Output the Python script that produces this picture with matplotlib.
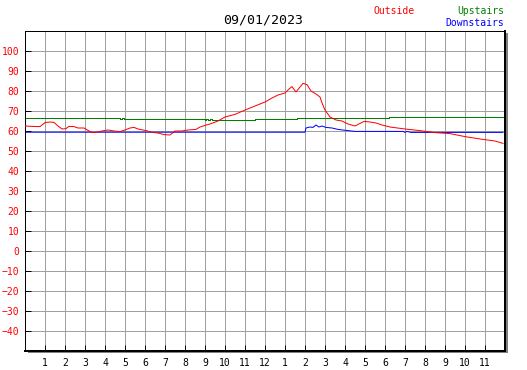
import matplotlib
matplotlib.use("Agg")
import matplotlib.pyplot as plt
from matplotlib.patches import Rectangle

plt.rcParams["font.family"] = ["DejaVu Sans Mono"]

W, H = 527, 370
PX = 0.72  # one pixel in points at dpi 100

title = "09/01/2023"
hour_labels = ["1", "2", "3", "4", "5", "6", "7", "8", "9", "10", "11", "12",
               "1", "2", "3", "4", "5", "6", "7", "8", "9", "10", "11"]

# outside temperature (red)
out_h = [0, 0.4, 0.75, 1.0, 1.25, 1.45, 1.65, 1.85, 2.05, 2.2, 2.45, 2.65, 2.95,
         3.15, 3.35, 3.55, 3.85, 4.15, 4.45, 4.75, 5.0, 5.25, 5.45, 5.65, 6.05,
         6.35, 6.65, 6.95, 7.25, 7.5, 7.85, 8.15, 8.55, 8.75, 9.0, 9.25, 9.65,
         10.0, 10.5, 11.0, 11.5, 12.0, 12.35, 12.65, 13.0, 13.2, 13.35, 13.55,
         13.75, 13.9, 14.1, 14.3, 14.55, 14.75, 14.85, 15.0, 15.25, 15.55,
         15.85, 16.15, 16.5, 16.75, 16.95, 17.25, 17.55, 17.85, 18.25, 19.0,
         19.75, 20.5, 21.25, 22.0, 22.75, 23.5, 23.9]
out_v = [62.5, 62.3, 62.2, 64.2, 64.5, 64.3, 62.5, 61.0, 61.2, 62.3, 62.2, 61.5,
         61.5, 60.3, 59.2, 59.3, 60.0, 60.5, 60.0, 59.7, 60.5, 61.5, 61.8, 61.0,
         60.2, 59.3, 59.0, 58.2, 58.0, 60.0, 60.0, 60.5, 60.8, 62.0, 62.8, 63.5,
         65.0, 67.0, 68.3, 70.5, 72.5, 74.5, 76.5, 78.0, 79.0, 81.0, 82.2, 79.5,
         82.0, 83.8, 83.2, 80.0, 78.5, 77.0, 74.0, 70.5, 67.0, 65.5, 65.0, 63.5,
         62.5, 63.8, 64.8, 64.5, 64.0, 63.0, 62.0, 61.0, 60.2, 59.2, 58.7, 57.2,
         56.0, 55.0, 53.8]

# upstairs (green)
up_h = [0, 4.75, 4.85, 4.95, 9.0, 9.05, 9.15, 9.25, 9.35, 9.5, 11.5, 13.6,
        18.2, 23.9]
up_v = [66.3, 65.8, 66.3, 65.8, 65.3, 65.8, 65.3, 65.8, 65.3, 65.3, 65.8,
        66.3, 66.8, 66.8]

# downstairs (blue)
down_h = [0, 14.0, 14.05, 14.25, 14.4, 14.55, 14.7, 14.85, 15.05, 15.35, 15.65,
          16.05, 16.5, 18.9, 19.0, 19.1, 19.3, 19.4, 23.9]
down_v = [59.4, 59.4, 61.5, 62.0, 61.8, 63.0, 62.0, 62.5, 61.8, 61.5, 60.8,
          60.3, 59.8, 59.8, 59.3, 59.8, 59.3, 59.3, 59.3]

fig = plt.figure(figsize=(W / 100, H / 100), dpi=100)
ax = fig.add_axes([25 / W, (H - 351) / H, 480 / W, 320 / H])

# drop shadow behind the plot frame
fig.add_artist(Rectangle((28 / W, (H - 353) / H), 480 / W, 320 / H,
                         transform=fig.transFigure, facecolor="#808080",
                         edgecolor="none", zorder=-1))

ax.plot(out_h, out_v, color="red", linewidth=PX, antialiased=True, zorder=3)
ax.plot(up_h, up_v, color="green", linewidth=PX, drawstyle="steps-post",
        antialiased=False, zorder=2)
ax.plot(down_h, down_v, color="blue", linewidth=PX, antialiased=True,
        zorder=2)

ax.set_xlim(0, 24)
ax.set_ylim(-50, 110)
ax.set_xticks(range(1, 24))
ax.set_xticklabels(hour_labels)
ax.set_yticks(range(-40, 101, 10))
ax.grid(True, color="#a0a0a0", linewidth=PX)
ax.set_axisbelow(True)
ax.tick_params(axis="both", direction="in", length=4, width=PX, color="black",
               labelsize=7)
ax.tick_params(axis="y", labelcolor="red", pad=4)
ax.tick_params(axis="x", labelcolor="black", pad=5)

for side in ["left", "top"]:
    ax.spines[side].set_linewidth(PX)
for side in ["right", "bottom"]:
    ax.spines[side].set_linewidth(2 * PX)

fig.text(263 / W, 1 - 20 / H, title, ha="center", va="center", fontsize=9.5)
fig.text(373 / W, 1 - 11 / H, "Outside", color="red", ha="left", va="center",
         fontsize=7)
fig.text(504 / W, 1 - 11 / H, "Upstairs", color="green", ha="right",
         va="center", fontsize=7)
fig.text(504 / W, 1 - 23 / H, "Downstairs", color="blue", ha="right",
         va="center", fontsize=7)

fig.savefig("out.png", dpi=100)
